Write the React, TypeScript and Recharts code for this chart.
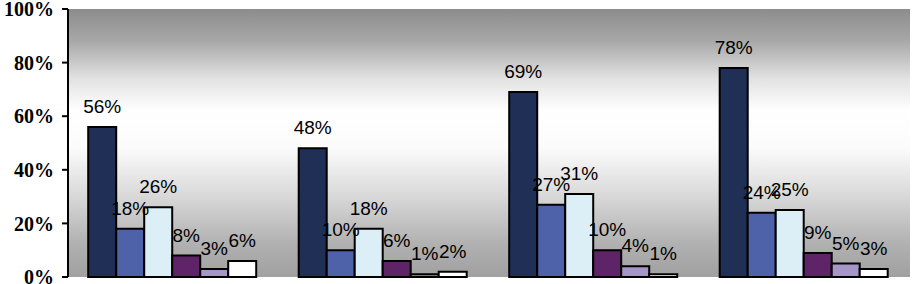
import { Bar, BarChart, CartesianGrid, LabelList, XAxis, YAxis } from 'recharts'

// Four groups, six bars each (values in %)
const GRUPOS = ['G1', 'G2', 'G3', 'G4']
const SERIE_A = [56, 48, 69, 78]
const SERIE_B = [18, 10, 27, 24]
const SERIE_C = [26, 18, 31, 25]
const SERIE_D = [8, 6, 10, 9]
const SERIE_E = [3, 1, 4, 5]
const SERIE_F = [6, 2, 1, 3]
const TICKS_Y = [0, 20, 40, 60, 80, 100]

const SERIES = [
  { key: 'a', valores: SERIE_A, cor: '#1F2F56' },
  { key: 'b', valores: SERIE_B, cor: '#4D62A9' },
  { key: 'c', valores: SERIE_C, cor: '#DCEEF6' },
  { key: 'd', valores: SERIE_D, cor: '#5F2468' },
  { key: 'e', valores: SERIE_E, cor: '#A596C7' },
  { key: 'f', valores: SERIE_F, cor: '#FFFFFF' },
]

const dados = GRUPOS.map((g, i) => {
  const linha: Record<string, string | number> = { grupo: g }
  for (const s of SERIES) linha[s.key] = s.valores[i]
  return linha
})

export default function App() {
  return (
    <div style={{ position: 'absolute', left: 0, top: 0 }}>
      <BarChart
        width={914}
        height={284}
        data={dados}
        margin={{ top: 9, right: 4, bottom: 7, left: 0 }}
        barCategoryGap="9.6%"
        barGap={0}
      >
        <defs>
          <linearGradient id="fundo" x1="0" y1="0" x2="0" y2="1">
            <stop offset="0%" stopColor="#8c8c8c" />
            <stop offset="12%" stopColor="#a8a8a8" />
            <stop offset="26%" stopColor="#e2e2e2" />
            <stop offset="38%" stopColor="#ffffff" />
            <stop offset="52%" stopColor="#fbfbfb" />
            <stop offset="70%" stopColor="#d8d8d8" />
            <stop offset="88%" stopColor="#b0b0b0" />
            <stop offset="100%" stopColor="#a0a0a0" />
          </linearGradient>
        </defs>
        <CartesianGrid horizontal={false} vertical={false} fill="url(#fundo)" />
        <XAxis dataKey="grupo" hide />
        <YAxis
          width={68}
          domain={[0, 100]}
          ticks={TICKS_Y}
          interval={0}
          tickFormatter={(v: number) => `${v}%`}
          axisLine={{ stroke: '#000', strokeWidth: 2 }}
          tickLine={{ stroke: '#000', strokeWidth: 2 }}
          tickSize={6}
          tickMargin={8}
          tick={{
            fontSize: 20,
            fontWeight: 'bold',
            fontFamily: '"Liberation Serif", "Times New Roman", serif',
            fill: '#000',
          }}
        />
        {SERIES.map((s) => (
          <Bar
            key={s.key}
            dataKey={s.key}
            fill={s.cor}
            stroke="#000"
            strokeWidth={2}
            isAnimationActive={false}
          >
            <LabelList
              dataKey={s.key}
              position="top"
              offset={14}
              formatter={(v: unknown) => `${v}%`}
              style={{
                fontSize: 19,
                fontFamily: '"Liberation Sans", Arial, sans-serif',
                fill: '#000',
              }}
            />
          </Bar>
        ))}
      </BarChart>
    </div>
  )
}
